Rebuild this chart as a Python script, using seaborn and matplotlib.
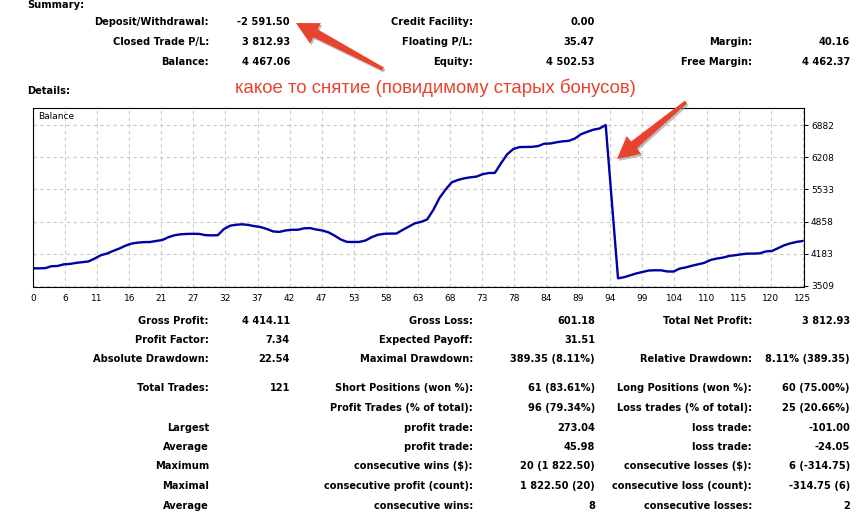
import numpy as np
import matplotlib
matplotlib.use("Agg")
import matplotlib.pyplot as plt
from matplotlib.patches import Polygon
import seaborn as sns

# balance curve, one value per operation
balance = [
    3876, 3876, 3880, 3920, 3925, 3960, 3968, 3990, 4005, 4020,
    4080, 4150, 4185, 4240, 4290, 4350, 4395, 4415, 4425, 4428,
    4450, 4470, 4530, 4570, 4590, 4598, 4600, 4598, 4572, 4568,
    4570, 4700, 4770, 4790, 4800, 4785, 4760, 4740, 4700, 4650,
    4640, 4670, 4685, 4685, 4715, 4720, 4690, 4670, 4630, 4560,
    4480, 4430, 4428, 4430, 4460, 4530, 4580, 4600, 4605, 4605,
    4680, 4750, 4820, 4850, 4900, 5100, 5350, 5530, 5680, 5730,
    5764, 5785, 5800, 5850, 5876, 5878, 6080, 6268, 6380, 6420,
    6422, 6425, 6440, 6490, 6495, 6520, 6540, 6550, 6600, 6690,
    6740, 6785, 6810, 6882, 5270, 3666, 3690, 3730, 3770, 3800,
    3830, 3835, 3834, 3810, 3808, 3870, 3895, 3930, 3960, 3990,
    4050, 4080, 4100, 4134, 4150, 4170, 4184, 4185, 4190, 4230,
    4240, 4300, 4360, 4400, 4430, 4450,
]
x_tick_labels = ["0", "6", "11", "16", "21", "27", "32", "37", "42", "47", "53", "58", "63",
                 "68", "73", "78", "84", "89", "94", "99", "104", "110", "115", "120", "125"]
y_ticks = [3509, 4183, 4858, 5533, 6208, 6882]

summary_rows = [
    ("Deposit/Withdrawal:", "-2 591.50", "Credit Facility:", "0.00", "", ""),
    ("Closed Trade P/L:", "3 812.93", "Floating P/L:", "35.47", "Margin:", "40.16"),
    ("Balance:", "4 467.06", "Equity:", "4 502.53", "Free Margin:", "4 462.37"),
]
detail_rows = [
    ("Gross Profit:", "4 414.11", "Gross Loss:", "601.18", "Total Net Profit:", "3 812.93"),
    ("Profit Factor:", "7.34", "Expected Payoff:", "31.51", "", ""),
    ("Absolute Drawdown:", "22.54", "Maximal Drawdown:", "389.35 (8.11%)", "Relative Drawdown:", "8.11% (389.35)"),
    ("Total Trades:", "121", "Short Positions (won %):", "61 (83.61%)", "Long Positions (won %):", "60 (75.00%)"),
    ("", "", "Profit Trades (% of total):", "96 (79.34%)", "Loss trades (% of total):", "25 (20.66%)"),
    ("Largest", "", "profit trade:", "273.04", "loss trade:", "-101.00"),
    ("Average", "", "profit trade:", "45.98", "loss trade:", "-24.05"),
    ("Maximum", "", "consecutive wins ($):", "20 (1 822.50)", "consecutive losses ($):", "6 (-314.75)"),
    ("Maximal", "", "consecutive profit (count):", "1 822.50 (20)", "consecutive loss (count):", "-314.75 (6)"),
    ("Average", "", "consecutive wins:", "8", "consecutive losses:", "2"),
]
note = "какое то снятие (повидимому старых бонусов)"

W, H = 866, 521
sns.set_style("white")
plt.rcParams['font.family'] = ['DejaVu Sans']
plt.rcParams['text.color'] = 'black'

fig = plt.figure(figsize=(W / 100, H / 100), dpi=100)
ax = fig.add_axes([33 / W, 1 - 287 / H, (804 - 33) / W, (287 - 108) / H])

sns.lineplot(x=np.arange(len(balance)), y=balance, ax=ax, color="#0000a8", lw=1.7)

ax.set_xlim(0, 125.2)
ax.set_ylim(3484, 7240)
ax.set_xticks(np.linspace(0, 125, len(x_tick_labels)))
ax.set_xticklabels(x_tick_labels)
ax.set_yticks(y_ticks)
ax.set_yticklabels([str(v) for v in y_ticks])
ax.yaxis.tick_right()
ax.tick_params(axis="both", direction="out", length=3, width=0.7, labelsize=6.5, pad=2,
               colors="black", labelcolor="black")
ax.grid(True, color="#c8c8c8", linestyle=(0, (3, 3)), lw=0.8)
for s in ax.spines.values():
    s.set_color("black")
    s.set_linewidth(0.8)
ax.set_xlabel("")
ax.set_ylabel("")
ax.text(0.006, 0.955, "Balance", transform=ax.transAxes, fontsize=6.5, va="center", ha="left")


def px(x, y):
    return x / W, 1 - y / H


bold = dict(fontsize=7.1, fontweight="bold", va="center", color="black")
fig.text(*px(27, 5), "Summary:", ha="left", **bold)
fig.text(*px(27, 91), "Details:", ha="left", **bold)

cols = [209, 290, 473, 595, 752, 850]


def draw_rows(rows, ys):
    for row, y in zip(rows, ys):
        for txt, cx in zip(row, cols):
            if txt:
                fig.text(*px(cx, y), txt, ha="right", **bold)


draw_rows(summary_rows, [22, 42, 62])
draw_rows(detail_rows, [321, 340, 359, 388, 408, 428, 447, 466, 486, 506])

red = "#e8432e"
fig.text(*px(235, 88), note, color=red, fontsize=13.4, family="Liberation Sans", va="center", ha="left")


def arrow(tail, tip, tail_w=3.5, neck_w=9.0, head_w=23.0, head_len=22.0):
    tail = np.array(tail, float)
    tip = np.array(tip, float)
    d = (tip - tail) / np.linalg.norm(tip - tail)
    n = np.array([-d[1], d[0]])
    base = tip - d * head_len
    pts = [tail + n * tail_w / 2, base + n * neck_w / 2, base + n * head_w / 2, tip,
           base - n * head_w / 2, base - n * neck_w / 2, tail - n * tail_w / 2]
    for off, col, a in [((1.5, 2.0), "#8c8c8c", 0.55), ((0, 0), red, 1.0)]:
        verts = [px(p[0] + off[0], p[1] + off[1]) for p in pts]
        fig.add_artist(Polygon(verts, closed=True, transform=fig.transFigure,
                               facecolor=col, edgecolor="none", alpha=a))


arrow((383, 69), (296, 23))
arrow((686, 102), (617, 159))

fig.savefig("out.png", dpi=100)
